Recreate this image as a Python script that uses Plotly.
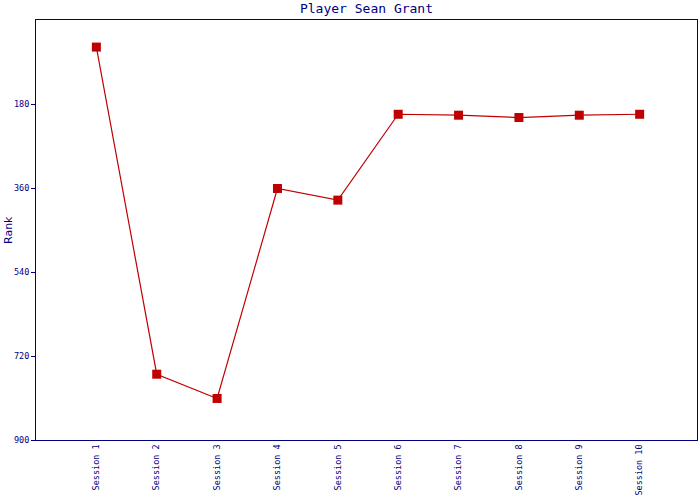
import plotly.graph_objects as go

sessions = ["Session 1", "Session 2", "Session 3", "Session 4", "Session 5",
            "Session 6", "Session 7", "Session 8", "Session 9", "Session 10"]
ranks = [58, 759, 811, 361, 386, 202, 204, 209, 204, 202]
y_ticks = [180, 360, 540, 720, 900]

NAVY = "#000080"
RED = "#C00000"
MONO = "DejaVu Sans Mono"

fig = go.Figure()
fig.add_trace(go.Scatter(
    x=sessions, y=ranks, mode="lines+markers",
    line=dict(color=RED, width=1.2),
    marker=dict(symbol="square", size=9, color=RED),
    showlegend=False,
))

fig.update_layout(
    width=700, height=500,
    margin=dict(l=36, r=3, t=20, b=60),
    paper_bgcolor="white", plot_bgcolor="white",
    title=dict(text="Player Sean Grant", x=0.5, xref="paper",
               y=1 - 8 / 500, yref="container", yanchor="middle",
               font=dict(family=MONO, size=13, color=NAVY)),
    xaxis=dict(type="category", range=[-1, 9.95], tickangle=-90,
               showgrid=False, zeroline=False, showline=True,
               linecolor=NAVY, linewidth=1, mirror=True, ticks="",
               tickfont=dict(family=MONO, size=8.5, color=NAVY)),
    yaxis=dict(range=[900, 0], tickvals=y_ticks,
               ticktext=[str(v) for v in y_ticks],
               showgrid=False, zeroline=False, showline=True,
               linecolor=NAVY, linewidth=1, mirror=True,
               ticks="outside", ticklen=4, tickcolor=NAVY,
               tickfont=dict(family=MONO, size=8.5, color=NAVY)),
    annotations=[dict(text="Rank", xref="paper", yref="paper",
                      x=(8 - 36) / 661, y=0.5, showarrow=False,
                      textangle=-90, xanchor="center", yanchor="middle",
                      font=dict(family="DejaVu Sans", size=11, color=NAVY))],
)

fig.write_html("out.html", config={"displayModeBar": False},
               post_script="document.body.style.margin='0';document.body.style.overflow='hidden';")
